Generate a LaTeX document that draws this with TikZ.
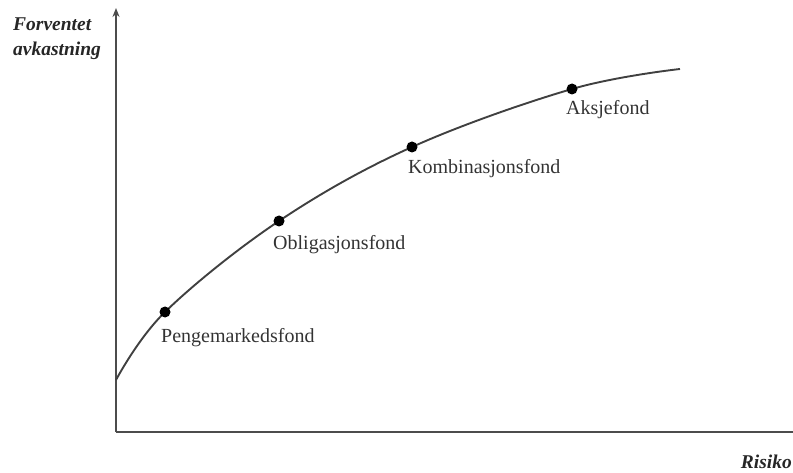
\documentclass[tikz,border=0pt]{standalone}
\usepackage{fontspec}
\setmainfont{Liberation Serif}
\usetikzlibrary{arrows.meta}
\begin{document}
\begin{tikzpicture}[x=1pt,y=-1pt,
  axis/.style={line width=2pt,draw=black!70},
  curve/.style={line width=1.9pt,draw=black!75},
  fund/.style={circle,fill=black,inner sep=0pt,minimum size=11pt},
  lbl/.style={font=\fontsize{20}{22}\selectfont,text=black!80,anchor=west,inner sep=0pt},
  axlbl/.style={font=\fontsize{19.5}{25}\selectfont\bfseries\itshape,text=black!85,inner sep=0pt,align=left}]
\useasboundingbox (0,0) rectangle (793,473);
\coordinate (O) at (116,432);
\coordinate (Ytop) at (116,8);
\coordinate (Xend) at (793,432);
\draw[axis] (O) -- (Xend);
\draw[axis,-{Stealth[length=9pt,width=7pt]}] (O) -- (Ytop);
\draw[curve] plot[smooth,tension=0.6] coordinates {(116,380) (165,312) (279,221) (412,147) (572,89) (680,69)};
\node[fund] (p) at (165,312) {};
\node[fund] (o) at (279,221) {};
\node[fund] (k) at (412,147) {};
\node[fund] (a) at (572,89) {};
\node[lbl] (pl) at (161,338) {Pengemarkedsfond};
\node[lbl] (ol) at (273,245) {Obligasjonsfond};
\node[lbl] (kl) at (408,169) {Kombinasjonsfond};
\node[lbl] (al) at (566,110) {Aksjefond};
\node[axlbl,anchor=north west] (yl) at (13,18) {Forventet\\avkastning};
\node[axlbl,anchor=east] (xl) at (792,462) {Risiko};
\end{tikzpicture}
\end{document}
